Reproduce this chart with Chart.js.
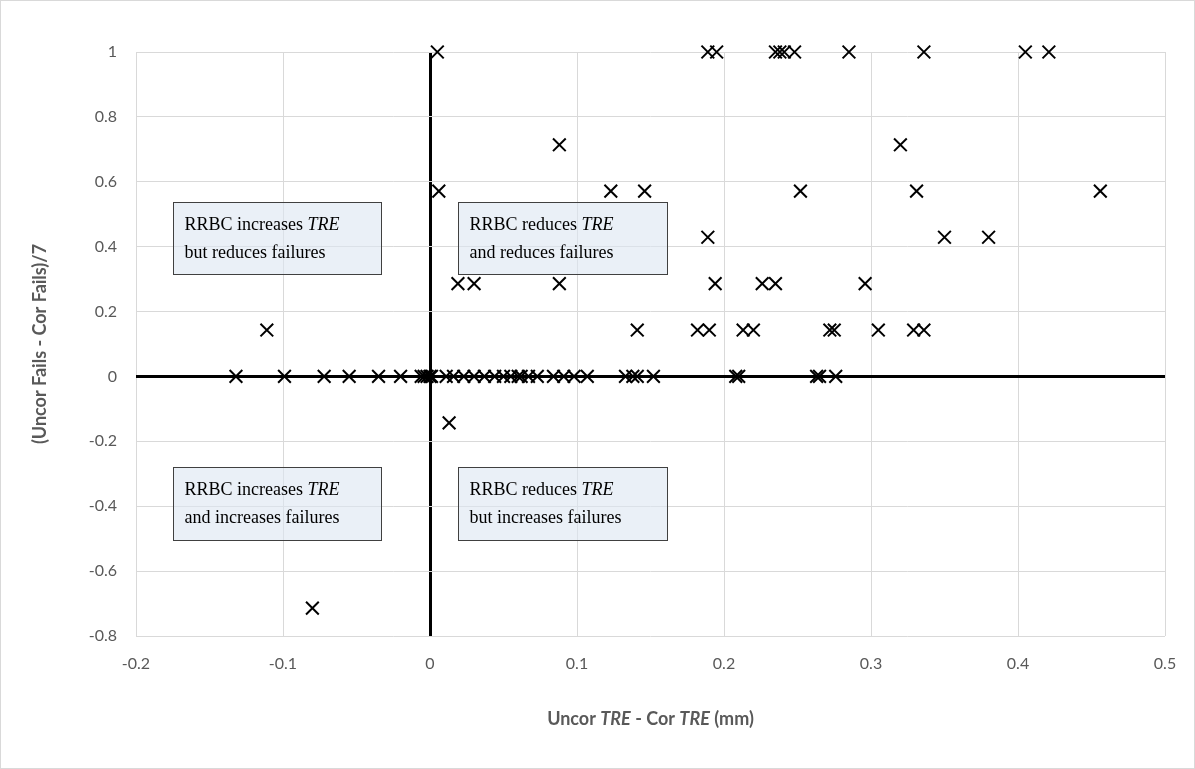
<!DOCTYPE html>
<html>
<head>
<meta charset="utf-8">
<script src="https://cdn.jsdelivr.net/npm/chart.js@4.4.1/dist/chart.umd.min.js"></script>
<style>
  html, body { margin: 0; padding: 0; background: #fff; }
  #wrap { width: 1195px; height: 769px; }
</style>
</head>
<body>
<div id="wrap"><canvas id="c" width="1195" height="769"></canvas></div>
<script>
// Difference in failures (normalised by 7 targets) against difference in TRE (mm).
// One array of TRE differences for each failure-difference level.
const xAtPlus7 = [0.005, 0.189, 0.195, 0.235, 0.238, 0.241, 0.248, 0.285, 0.336, 0.405, 0.421];
const xAtPlus5 = [0.088, 0.320];
const xAtPlus4 = [0.006, 0.123, 0.146, 0.252, 0.331, 0.456];
const xAtPlus3 = [0.189, 0.350, 0.380];
const xAtPlus2 = [0.019, 0.030, 0.088, 0.194, 0.226, 0.235, 0.296];
const xAtPlus1 = [-0.111, 0.141, 0.182, 0.190, 0.213, 0.220, 0.272, 0.275, 0.305, 0.329, 0.336];
const xAtZero  = [-0.132, -0.099, -0.072, -0.055, -0.035, -0.020, -0.006, -0.004, -0.002, 0.000, 0.001,
                  0.011, 0.016, 0.023, 0.030, 0.037, 0.044, 0.050, 0.055, 0.060, 0.062, 0.067, 0.073,
                  0.084, 0.091, 0.098, 0.107, 0.133, 0.138, 0.141, 0.152, 0.208, 0.210, 0.263, 0.265, 0.276];
const xAtMinus1 = [0.013];
const xAtMinus5 = [-0.080];

const levels = [1, 0.714, 0.571, 0.429, 0.286, 0.143, 0, -0.143, -0.714];
const levelRows = [xAtPlus7, xAtPlus5, xAtPlus4, xAtPlus3, xAtPlus2, xAtPlus1, xAtZero, xAtMinus1, xAtMinus5];

const xTickValues = [-0.2, -0.1, 0, 0.1, 0.2, 0.3, 0.4, 0.5];
const xTickLabels = ['-0.2', '-0.1', '0', '0.1', '0.2', '0.3', '0.4', '0.5'];
const yTickValues = [-0.8, -0.6, -0.4, -0.2, 0, 0.2, 0.4, 0.6, 0.8, 1];
const yTickLabels = ['-0.8', '-0.6', '-0.4', '-0.2', '0', '0.2', '0.4', '0.6', '0.8', '1'];

const quadrantNotes = [
  { x0: -0.175, x1: -0.033, y0: 0.539, y1: 0.317, lines: [['RRBC increases ', 'TRE'], ['but reduces failures']] },
  { x0: 0.019,  x1: 0.161,  y0: 0.539, y1: 0.317, lines: [['RRBC reduces ', 'TRE'], ['and reduces failures']] },
  { x0: -0.175, x1: -0.033, y0: -0.280, y1: -0.505, lines: [['RRBC increases ', 'TRE'], ['and increases failures']] },
  { x0: 0.019,  x1: 0.161,  y0: -0.280, y1: -0.505, lines: [['RRBC reduces ', 'TRE'], ['but increases failures']] }
];

const points = [];
levelRows.forEach((row, i) => row.forEach(x => points.push({ x: x, y: levels[i] })));

const GRID = '#d9d9d9';
const TEXT = '#595959';
const UI_FONT = 'Lato, "Open Sans", sans-serif';

function drawRuns(ctx, runs, cx, cy, size, weight, family) {
  let total = 0;
  runs.forEach(r => {
    ctx.font = (r.it ? 'italic ' : '') + weight + ' ' + size + 'px ' + family;
    r.w = ctx.measureText(r.t).width;
    total += r.w;
  });
  let x = cx - total / 2;
  runs.forEach(r => {
    ctx.font = (r.it ? 'italic ' : '') + weight + ' ' + size + 'px ' + family;
    ctx.fillText(r.t, x, cy);
    x += r.w;
  });
}

const decorations = {
  id: 'decorations',
  afterDatasetsDraw(chart) {
    const ctx = chart.ctx;
    const xs = chart.scales.x, ys = chart.scales.y;
    ctx.save();
    // quadrant notes
    quadrantNotes.forEach(n => {
      const l = Math.round(xs.getPixelForValue(n.x0)) + 0.5;
      const r = Math.round(xs.getPixelForValue(n.x1)) + 0.5;
      const t = Math.round(ys.getPixelForValue(n.y0)) + 0.5;
      const b = Math.round(ys.getPixelForValue(n.y1)) + 0.5;
      ctx.fillStyle = 'rgba(220, 230, 242, 0.6)';
      ctx.fillRect(l, t, r - l, b - t);
      ctx.strokeStyle = '#404040';
      ctx.lineWidth = 1;
      ctx.strokeRect(l, t, r - l, b - t);
      ctx.fillStyle = '#000';
      ctx.textBaseline = 'middle';
      n.lines.forEach((parts, k) => {
        let x = l + 11;
        const y = t + 23 + k * 28;
        parts.forEach((p, j) => {
          ctx.font = (j === 1 ? 'italic ' : '') + '18px "Liberation Serif", "Times New Roman", serif';
          ctx.fillText(p, x, y);
          x += ctx.measureText(p).width;
        });
      });
    });
    ctx.restore();
  },
  afterDraw(chart) {
    const ctx = chart.ctx;
    const a = chart.chartArea;
    ctx.save();
    ctx.fillStyle = TEXT;
    ctx.textBaseline = 'middle';
    ctx.textAlign = 'left';
    drawRuns(ctx, [
      { t: 'Uncor ' }, { t: 'TRE', it: true }, { t: ' - Cor ' }, { t: 'TRE', it: true }, { t: ' (mm)' }
    ], (a.left + a.right) / 2, 719, 18, 'bold', UI_FONT);
    ctx.translate(40, (a.top + a.bottom) / 2);
    ctx.rotate(-Math.PI / 2);
    drawRuns(ctx, [{ t: '(Uncor Fails - Cor Fails)/7' }], 0, 0, 18, 'bold', UI_FONT);
    ctx.restore();
    // outer frame of the chart
    ctx.save();
    ctx.strokeStyle = GRID;
    ctx.lineWidth = 1;
    ctx.strokeRect(0.5, 0.5, chart.width - 1, chart.height - 1);
    ctx.restore();
  }
};

function zeroWidth(c) { return c.tick && c.tick.value === 0 ? 3 : 1; }
function zeroColor(c) { return c.tick && c.tick.value === 0 ? '#000' : GRID; }

new Chart(document.getElementById('c'), {
  type: 'scatter',
  data: {
    datasets: [{
      data: points,
      pointStyle: 'crossRot',
      pointRadius: 9,
      pointBorderWidth: 2,
      pointBorderColor: '#000',
      pointBackgroundColor: '#000',
      showLine: false,
      clip: false
    }]
  },
  options: {
    responsive: false,
    animation: false,
    events: [],
    layout: { padding: { top: 52, right: 30, left: 0, bottom: 0 } },
    plugins: { legend: { display: false }, tooltip: { enabled: false } },
    scales: {
      x: {
        type: 'linear',
        min: -0.2, max: 0.5,
        afterBuildTicks: s => { s.ticks = xTickValues.map(v => ({ value: v })); },
        afterFit: s => { s.height = 133; },
        ticks: {
          padding: 18,
          color: TEXT,
          font: { family: UI_FONT, size: 16 },
          maxRotation: 0,
          callback: (v) => xTickLabels[xTickValues.indexOf(v)]
        },
        grid: { color: zeroColor, lineWidth: zeroWidth, drawTicks: false },
        border: { display: false }
      },
      y: {
        type: 'linear',
        min: -0.8, max: 1,
        afterBuildTicks: s => { s.ticks = yTickValues.map(v => ({ value: v })); },
        afterFit: s => { s.width = 136; },
        ticks: {
          padding: 19,
          color: TEXT,
          font: { family: UI_FONT, size: 16 },
          callback: (v) => yTickLabels[yTickValues.indexOf(v)]
        },
        grid: { color: zeroColor, lineWidth: zeroWidth, drawTicks: false },
        border: { display: false }
      }
    }
  },
  plugins: [decorations]
});
</script>
</body>
</html>
